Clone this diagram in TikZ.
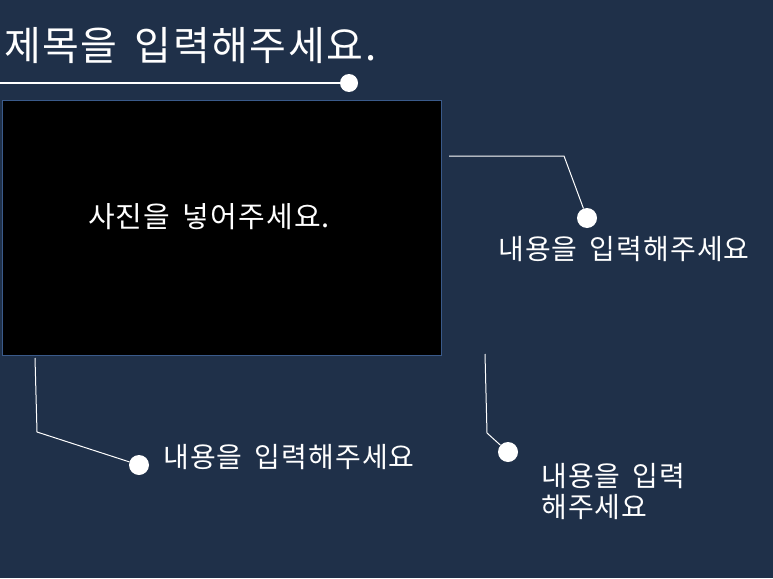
\documentclass[tikz,border=0pt]{standalone}
\usepackage{fontspec}
\setmainfont{Noto Sans CJK KR}[LetterSpace=4,WordSpace=1.6]
\definecolor{bg}{HTML}{1F3049}
\definecolor{frame}{HTML}{3A5A8A}
\begin{document}
\begin{tikzpicture}[x=1pt,y=-1pt,
  ln/.style={draw=white,line width=1pt},
  dot/.style={circle,fill=white,inner sep=0pt,minimum size=20pt},
  lbl/.style={text=white,font=\fontsize{28}{33}\selectfont,inner sep=0pt,anchor=west,align=left}]
\fill[bg] (0,0) rectangle (773,578);
\useasboundingbox (0,0) rectangle (773,578);
\node[draw=frame,line width=1.2pt,fill=black,minimum width=439pt,minimum height=255pt,anchor=north west,inner sep=0pt] (photo) at (2,100) {};
\node[text=white,font=\fontsize{29}{34}\selectfont] (ptext) at (209,217) {사진을 넣어주세요.};
\node[text=white,font=\fontsize{40}{46}\selectfont,anchor=west,inner sep=0pt] (title) at (4,46) {제목을 입력해주세요.};
\coordinate (t0) at (0,83);
\node[dot,minimum size=18pt] (td) at (349,83) {};
\draw[ln,line width=2pt] (t0) -- (td);
% connector 1
\coordinate (a0) at (449,156);
\coordinate (a1) at (564,156);
\node[dot] (ad) at (587,218) {};
\draw[ln] (a0) -- (a1) -- (ad);
\node[lbl] (al) at (498,249) {내용을 입력해주세요};
% connector 2
\coordinate (b0) at (35,358);
\coordinate (b1) at (37,432);
\node[dot] (bd) at (139,465) {};
\draw[ln] (b0) -- (b1) -- (bd);
\node[lbl] (bl) at (163,457) {내용을 입력해주세요};
% connector 3
\coordinate (c0) at (485,354);
\coordinate (c1) at (487,433);
\node[dot] (cd) at (508,452) {};
\draw[ln] (c0) -- (c1) -- (cd);
\node[lbl,anchor=north west] (cl) at (541,463) {내용을 입력\\[-2pt]해주세요};
\end{tikzpicture}
\end{document}
